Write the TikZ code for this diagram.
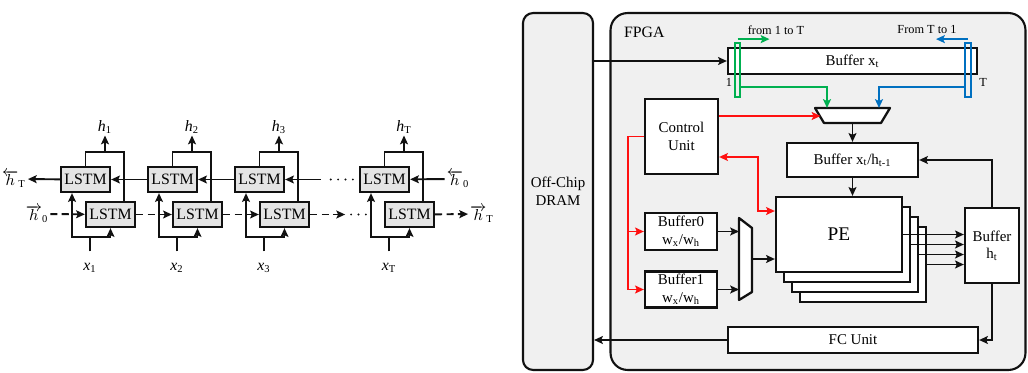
\documentclass[tikz,border=0pt]{standalone}
\usepackage{fontspec}
\setmainfont{Liberation Serif}
\usetikzlibrary{arrows.meta}
\definecolor{ink}{HTML}{111111}
\definecolor{cpanel}{HTML}{F0F0F0}
\definecolor{clstm}{HTML}{E4E4E4}
\definecolor{cred}{HTML}{FF1010}
\definecolor{cgreen}{HTML}{00B050}
\definecolor{cblue}{HTML}{0070C0}

\begin{document}
\begin{tikzpicture}[x=0.02cm, y=-0.02cm,
      lstm/.style={draw=ink, fill=clstm, line width=1.3pt, minimum width=0.98cm,
                   minimum height=0.5cm, inner sep=0pt, font=\fontsize{9}{10}\selectfont},
      unit/.style={draw=ink, fill=white, line width=1.3pt, align=center, inner sep=0pt,
                   font=\fontsize{8.5}{10}\selectfont},
      panel/.style={draw=ink, fill=cpanel, line width=1.2pt, inner sep=0pt, align=center,
                    font=\fontsize{8.5}{10}\selectfont},
      muxline/.style={draw=ink, fill=white, line width=1.3pt, line join=round},
      lbl/.style={inner sep=1pt, font=\fontsize{9}{10}\selectfont},
      tiny/.style={inner sep=0pt, font=\fontsize{7}{8}\selectfont},
      wire/.style={draw=ink, line width=1.1pt},
      arr/.style={wire, -{Stealth[length=5pt, width=4.5pt, inset=1pt]}},
      fwd/.style={arr, dash pattern=on 4pt off 2.5pt},
      dots/.style={draw=ink, line width=1.2pt, dash pattern=on 0pt off 4.2pt, line cap=round},
      rarr/.style={arr, draw=cred},
      rdarr/.style={rarr, {Stealth[length=5pt, width=4.5pt, inset=1pt]}-{Stealth[length=5pt, width=4.5pt, inset=1pt]}},
      garr/.style={arr, draw=cgreen},
      barr/.style={arr, draw=cblue}]
    \useasboundingbox (0,0) rectangle (1028,372);

    % bidirectional LSTM, unrolled
    \node[lstm] (up1) at (85.5,179.5) {LSTM};
    \node[lstm] (lo1) at (110.5,214.5) {LSTM};
    \node[lstm] (up2) at (172.5,179.5) {LSTM};
    \node[lstm] (lo2) at (197.5,214.5) {LSTM};
    \node[lstm] (up3) at (259.5,179.5) {LSTM};
    \node[lstm] (lo3) at (284.5,214.5) {LSTM};
    \node[lstm] (upT) at (384.5,179.5) {LSTM};
    \node[lstm] (loT) at (409.5,214.5) {LSTM};

    \node[lbl] (h1) at (105,127) {\textit{h}\textsubscript{1}};
    \node[lbl] (h2) at (192,127) {\textit{h}\textsubscript{2}};
    \node[lbl] (h3) at (279,127) {\textit{h}\textsubscript{3}};
    \node[lbl] (hT) at (404,127) {\textit{h}\textsubscript{T}};
    \node[lbl] (x1) at (90,268) {\textit{x}\textsubscript{1}};
    \node[lbl] (x2) at (177,268) {\textit{x}\textsubscript{2}};
    \node[lbl] (x3) at (264,268) {\textit{x}\textsubscript{3}};
    \node[lbl] (xT) at (389,268) {\textit{x}\textsubscript{T}};
    \node[lbl] (hTb) at (14,179) {$\overleftarrow{h}_{\mathrm{T}}$};
    \node[lbl] (h0f) at (37,214) {$\overrightarrow{h}_{\mathrm{0}}$};
    \node[lbl] (h0b) at (458,179) {$\overleftarrow{h}_{\mathrm{0}}$};
    \node[lbl] (hTf) at (482,214) {$\overrightarrow{h}_{\mathrm{T}}$};

    % outputs
    \draw[wire] (up1.north) -- ++(0,-14) coordinate (j1) -| ([xshift=0.27cm]lo1.north);
    \draw[wire] (up2.north) -- ++(0,-14) coordinate (j2) -| ([xshift=0.27cm]lo2.north);
    \draw[wire] (up3.north) -- ++(0,-14) coordinate (j3) -| ([xshift=0.27cm]lo3.north);
    \draw[wire] (upT.north) -- ++(0,-14) coordinate (jT) -| ([xshift=0.27cm]loT.north);
    \draw[arr] (j1 -| h1) -- (h1);
    \draw[arr] (j2 -| h2) -- (h2);
    \draw[arr] (j3 -| h3) -- (h3);
    \draw[arr] (jT -| hT) -- (hT);

    % inputs
    \draw[wire] ([yshift=0.2cm]x1.north) -- ++(0,-14) coordinate (s1);
    \draw[wire] ([yshift=0.2cm]x2.north) -- ++(0,-14) coordinate (s2);
    \draw[wire] ([yshift=0.2cm]x3.north) -- ++(0,-14) coordinate (s3);
    \draw[wire] ([yshift=0.2cm]xT.north) -- ++(0,-14) coordinate (sT);
    \draw[arr] (s1) -| ([xshift=-0.27cm]up1.south);
    \draw[arr] (s1) -| (lo1.south);
    \draw[arr] (s2) -| ([xshift=-0.27cm]up2.south);
    \draw[arr] (s2) -| (lo2.south);
    \draw[arr] (s3) -| ([xshift=-0.27cm]up3.south);
    \draw[arr] (s3) -| (lo3.south);
    \draw[arr] (sT) -| ([xshift=-0.27cm]upT.south);
    \draw[arr] (sT) -| (loT.south);

    % backward chain
    \draw[arr] (h0b) -- (upT);
    \draw[dots] ([xshift=-0.12cm]upT.west) -- ([xshift=-0.7cm]upT.west);
    \draw[arr] ([xshift=-0.76cm]upT.west) -- (up3);
    \draw[arr] (up3) -- (up2);
    \draw[arr] (up2) -- (up1);
    \draw[arr] (up1) -- (hTb);

    % forward chain
    \draw[fwd] (h0f) -- (lo1);
    \draw[fwd] (lo1) -- (lo2);
    \draw[fwd] (lo2) -- (lo3);
    \draw[fwd] (lo3) -- ([xshift=0.7cm]lo3.east);
    \draw[dots] ([xshift=0.82cm]lo3.east) -- ([xshift=1.15cm]lo3.east);
    \draw[fwd] (loT) -- (hTf);

    % accelerator
    \node[panel, rounded corners=0.2cm, minimum width=1.4cm, minimum height=7.14cm]
      (dram) at (558,191.5) {Off-Chip\\DRAM};
    \node[panel, rounded corners=0.34cm, minimum width=8.3cm, minimum height=7.14cm]
      (fpga) at (818,191.5) {};
    \node[lbl, anchor=west] (fpgalbl) at (622,32) {FPGA};

    \node[unit, minimum width=4.98cm, minimum height=0.52cm] (bx) at (852.5,61) {Buffer x\textsubscript{t}};
    \node[draw=cgreen, line width=1pt, minimum width=0.1cm, minimum height=1.08cm, inner sep=0pt]
      (gmark) at (737.5,70) {};
    \node[draw=cblue, line width=1pt, minimum width=0.12cm, minimum height=1.08cm, inner sep=0pt]
      (bmark) at (968,70) {};
    \node[tiny] (one) at (729,82) {1};
    \node[tiny] (tee) at (983,82) {T};
    \node[tiny] (fwdlbl) at (776,30) {from 1 to T};
    \node[tiny] (bwdlbl) at (927,30) {From T to 1};

    % multiplexers
    \draw[muxline] (815,108) -- (890,108) -- (881,123) -- (824,123) -- cycle;
    \coordinate (m1) at (852.5,116);
    \draw[muxline] (739,218) -- (752,228) -- (752,292) -- (739,300) -- cycle;
    \coordinate (m2l) at (739,259);
    \coordinate (m2r) at (752,259);

    \node[unit, minimum width=1.46cm, minimum height=1.5cm] (cu) at (681.5,136.5) {Control\\Unit};
    \node[unit, minimum width=2.62cm, minimum height=0.68cm] (bxh) at (852.5,160)
      {Buffer x\textsubscript{t}/h\textsubscript{t-1}};
    \node[unit, minimum width=1.44cm, minimum height=0.74cm] (b0) at (681,231.5)
      {Buffer0\\w\textsubscript{x}/w\textsubscript{h}};
    \node[unit, minimum width=1.44cm, minimum height=0.72cm] (b1) at (681,289.5)
      {Buffer1\\w\textsubscript{x}/w\textsubscript{h}};

    \node[unit, minimum width=2.52cm, minimum height=1.5cm] (pe3) at (863,264.5) {};
    \node[unit, minimum width=2.52cm, minimum height=1.5cm] (pe2) at (855,254.5) {};
    \node[unit, minimum width=2.52cm, minimum height=1.5cm] (pe1) at (847,244.5) {};
    \node[unit, minimum width=2.52cm, minimum height=1.5cm, font=\fontsize{11}{12}\selectfont]
      (pe) at (839,234.5) {PE};
    \node[unit, minimum width=1.08cm, minimum height=1.5cm] (bh) at (992,245.5) {Buffer\\h\textsubscript{t}};
    \node[unit, minimum width=5cm, minimum height=0.52cm] (fc) at (853,340) {FC Unit};

    \draw[arr] (dram.east |- bx) -- (bx);
    \draw[garr] ([yshift=0.06cm]gmark.north) -- ++(32,0);
    \draw[barr] ([yshift=0.06cm]bmark.north) -- ++(-32,0);
    \draw[garr] ([yshift=-0.34cm]gmark.east) -| ([xshift=-0.51cm,yshift=0.16cm]m1);
    \draw[barr] ([yshift=-0.34cm]bmark.west) -| ([xshift=0.53cm,yshift=0.16cm]m1);
    \draw[rarr] (cu.east |- m1) -- ([xshift=-0.64cm]m1);
    \draw[arr] ([yshift=-0.14cm]m1) -- (bxh);
    \draw[arr] (bxh) -- (bxh |- pe.north);
    \draw[rdarr] ([yshift=-0.41cm]cu.east) -- ++(39,0) |- ([yshift=0.47cm]pe.west);
    \draw[rarr] (cu.west) -- ++(-16,0) |- (b0);
    \draw[rarr] (cu.west) -- ++(-16,0) |- (b1);
    \draw[arr] (b0) -- (b0 -| m2l);
    \draw[arr] (b1) -- (b1 -| m2l);
    \draw[arr] (m2r) -- (m2r -| pe.west);
    \draw[arr] (pe) -- (pe -| bh.west);
    \draw[arr] (pe1) -- (pe1 -| bh.west);
    \draw[arr] (pe2) -- (pe2 -| bh.west);
    \draw[arr] (pe3) -- (pe3 -| bh.west);
    \draw[arr] (bh.north) |- (bxh);
    \draw[arr] (bh.south) |- (fc);
    \draw[arr] (fc) -- (fc -| dram.east);
  \end{tikzpicture}
\end{document}
